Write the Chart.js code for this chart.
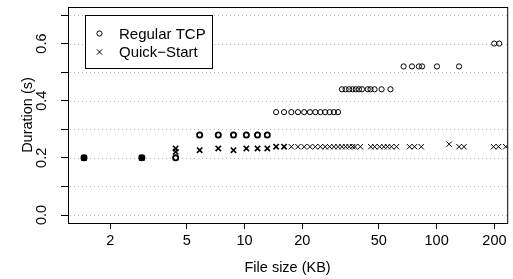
<!DOCTYPE html>
<html>
<head>
<meta charset="utf-8">
<script src="https://cdn.jsdelivr.net/npm/chart.js@4/dist/chart.umd.min.js"></script>
<style>
  body { margin: 0; background: #fff; }
  canvas { display: block; }
</style>
</head>
<body>
<canvas id="durationChart" width="513" height="279"></canvas>
<script>
// file size (KB) and completion time (s)
const tcpSize = [
  1.46, 2.92, 4.38,
  5.84, 7.3, 8.76, 10.22, 11.68, 13.14,
  14.6, 16.06, 17.52, 18.98, 20.44, 21.9, 23.36, 24.82, 26.28, 27.74, 29.2, 30.66,
  32.12, 33.58, 35.04, 36.5, 37.96, 39.42, 40.88, 43.8, 45.26, 47.5, 51.7, 57.5,
  67.3, 74.4, 80.8, 84.0, 100.4, 130.8,
  199.5, 211.7
];
const tcpTime = [
  0.2, 0.2, 0.2,
  0.28, 0.28, 0.28, 0.28, 0.28, 0.28,
  0.36, 0.36, 0.36, 0.36, 0.36, 0.36, 0.36, 0.36, 0.36, 0.36, 0.36, 0.36,
  0.44, 0.44, 0.44, 0.44, 0.44, 0.44, 0.44, 0.44, 0.44, 0.44, 0.44, 0.44,
  0.52, 0.52, 0.52, 0.52, 0.52, 0.52,
  0.6, 0.6
];
const qsSize = [
  1.46, 2.92, 4.38, 4.38,
  5.84, 7.3, 8.76, 10.22, 11.68, 13.14,
  14.6, 16.06, 17.52, 18.98, 20.44, 21.9, 23.36, 24.82, 26.28, 27.74, 29.2, 30.66,
  32.12, 33.58, 35.04, 36.5, 37.6, 40.1,
  45.4, 47.6, 50.5, 53.1, 55.5, 58.2, 61.8,
  72.3, 76.7, 83.1, 116.2, 130.8, 138.8,
  197.9, 210, 229.2
];
const qsTime = [
  0.2, 0.2, 0.221, 0.233,
  0.227, 0.233, 0.227, 0.233, 0.233, 0.233,
  0.239, 0.239, 0.239, 0.239, 0.239, 0.239, 0.239, 0.239, 0.239, 0.239, 0.239, 0.239,
  0.239, 0.239, 0.239, 0.239, 0.239, 0.239,
  0.239, 0.239, 0.239, 0.239, 0.239, 0.239, 0.239,
  0.239, 0.239, 0.239, 0.248, 0.239, 0.239,
  0.239, 0.239, 0.239
];
const seriesNames = ["Regular TCP", "Quick\u2212Start"];
const xTicks = [2, 5, 10, 20, 50, 100, 200];
const yTicks = [0, 0.1, 0.2, 0.3, 0.4, 0.5, 0.6, 0.7];
const yLabelTicks = [0, 0.2, 0.4, 0.6];

const FONT = "'Liberation Sans', Arial, Helvetica, sans-serif";
Chart.defaults.font.family = FONT;
Chart.defaults.font.size = 14.5;
Chart.defaults.color = "#000";

const toPoints = (xs, ys) => xs.map((x, i) => ({ x: x, y: ys[i] }));

/** dotted horizontal guides at every y tick, under the points */
const dottedGrid = {
  id: "dottedGrid",
  beforeDatasetsDraw(chart) {
    const { ctx, chartArea: a, scales } = chart;
    ctx.save();
    ctx.strokeStyle = "#b4b4b4";
    ctx.lineWidth = 1;
    ctx.setLineDash([1, 3]);
    scales.y.ticks.forEach(t => {
      const py = Math.round(scales.y.getPixelForValue(t.value)) + 0.5;
      ctx.beginPath();
      ctx.moveTo(a.left + 2, py);
      ctx.lineTo(a.right, py);
      ctx.stroke();
    });
    ctx.restore();
  }
};

/** R-like frame, rotated y labels and boxed legend */
const rFrame = {
  id: "rFrame",
  afterDraw(chart) {
    const { ctx, chartArea: a, scales } = chart;
    ctx.save();
    ctx.strokeStyle = "#000";
    ctx.lineWidth = 1;
    ctx.strokeRect(a.left + 0.5, a.top + 0.5, a.right - a.left, a.bottom - a.top);

    // y tick labels, rotated like R's default las=0
    ctx.font = "14.5px " + FONT;
    ctx.fillStyle = "#000";
    ctx.textAlign = "center";
    ctx.textBaseline = "middle";
    yLabelTicks.forEach(v => {
      const py = scales.y.getPixelForValue(v);
      ctx.save();
      ctx.translate(42, py);
      ctx.rotate(-Math.PI / 2);
      ctx.fillText(v.toFixed(1), 0, 0);
      ctx.restore();
    });

    // legend
    const bx = 85, by = 15, bw = 127, bh = 53;
    ctx.fillStyle = "#fff";
    ctx.fillRect(bx, by, bw, bh);
    ctx.strokeRect(bx + 0.5, by + 0.5, bw, bh);
    ctx.font = "15px " + FONT;
    ctx.textAlign = "left";
    chart.data.datasets.forEach((ds, i) => {
      const cy = 33.5 + i * 18.5;
      ctx.fillStyle = "#fff";
      ctx.strokeStyle = "#000";
      ctx.lineWidth = 1;
      Chart.helpers.drawPoint(ctx, {
        pointStyle: ds.pointStyle, radius: ds.pointRadius, rotation: 0, borderWidth: 1
      }, 99.5, cy);
      ctx.fillStyle = "#000";
      ctx.fillText(ds.label, 119, cy + 1);
    });
    ctx.restore();
  }
};

new Chart(document.getElementById("durationChart"), {
  type: "scatter",
  data: {
    datasets: [{
      label: seriesNames[0],
      data: toPoints(tcpSize, tcpTime),
      pointStyle: "circle",
      pointRadius: 2.6,
      borderColor: "#000",
      backgroundColor: c => (c.raw && c.raw.x < 4 ? "#000" : "rgba(0,0,0,0)"),
      borderWidth: c => (c.raw && c.raw.x < 14 ? 1.8 : 1)
    }, {
      label: seriesNames[1],
      data: toPoints(qsSize, qsTime),
      pointStyle: "crossRot",
      pointRadius: 3.8,
      borderColor: "#000",
      backgroundColor: "#000",
      borderWidth: c => (c.raw && c.raw.x < 17 ? 1.6 : 1)
    }]
  },
  options: {
    responsive: false,
    animation: false,
    events: [],
    layout: { padding: { top: 7, right: 1, left: 0, bottom: 0 } },
    plugins: { legend: { display: false }, tooltip: { enabled: false } },
    scales: {
      x: {
        type: "logarithmic",
        min: 1.205,
        max: 233,
        afterBuildTicks: s => { s.ticks = xTicks.map(v => ({ value: v })); },
        afterFit: s => { s.height = 56; },
        ticks: { padding: 3, maxRotation: 0, autoSkip: false, callback: v => String(v) },
        grid: { drawOnChartArea: false, tickLength: 6, tickColor: "#000" },
        border: { display: false },
        title: { display: true, text: "File size (KB)", font: { size: 14.5 }, padding: { bottom: 2.5 } }
      },
      y: {
        min: -0.028,
        max: 0.728,
        afterBuildTicks: s => { s.ticks = yTicks.map(v => ({ value: v })); },
        afterFit: s => { s.width = 68; },
        ticks: { display: false },
        grid: { drawOnChartArea: false, tickLength: 7, tickColor: "#000" },
        border: { display: false },
        title: { display: true, text: "Duration (s)", font: { size: 14.5 }, padding: { top: 19.5 } }
      }
    }
  },
  plugins: [dottedGrid, rFrame]
});
</script>
</body>
</html>
